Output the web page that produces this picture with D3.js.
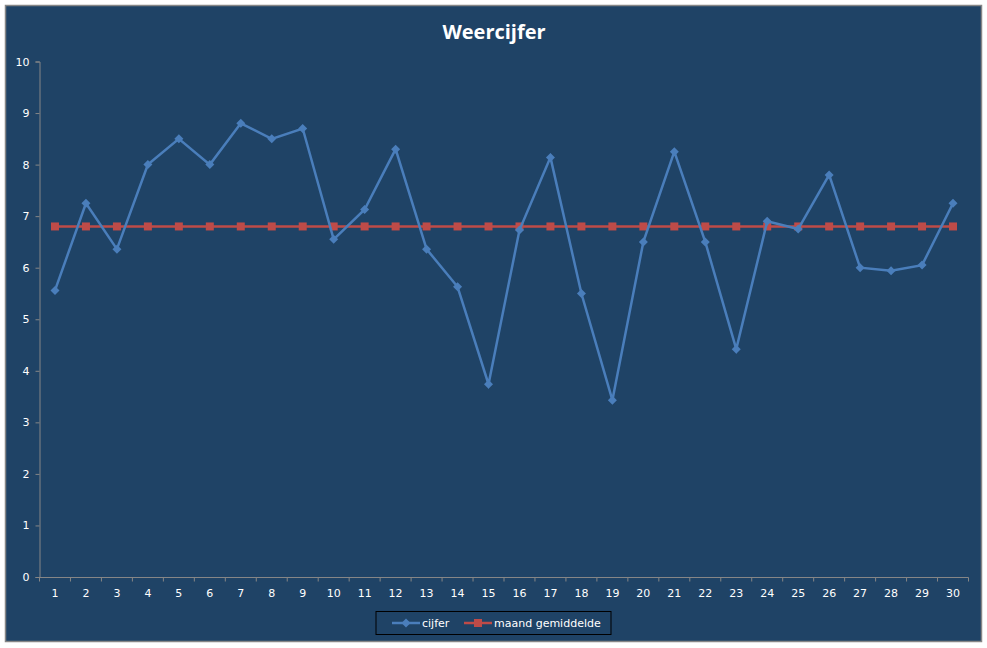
<!DOCTYPE html>
<html>
<head>
<meta charset="utf-8">
<script src="https://cdn.jsdelivr.net/npm/d3@7"></script>
<style>
    body { margin: 0; background: #ffffff; }
    text { font-family: Verdana, "DejaVu Sans", sans-serif; }
</style>
</head>
<body>
<div id="chart"></div>
<script>
// days of the month
const days = d3.range(1, 31).map(String);

// daily weather grade
const cijfer = [5.56, 7.25, 6.36, 8.0, 8.5, 8.0, 8.8, 8.5, 8.7, 6.55,
                7.13, 8.3, 6.36, 5.63, 3.74, 6.73, 8.14, 5.5, 3.43, 6.5,
                8.25, 6.5, 4.42, 6.9, 6.75, 7.8, 6.0, 5.94, 6.05, 7.25];

// monthly average (same every day)
const maandGemiddelde = days.map(() => 6.8);

const yTicks = [0, 1, 2, 3, 4, 5, 6, 7, 8, 9, 10];

const seriesNames = ["cijfer", "maand gemiddelde"];

const width = 987, height = 648;
const bg = "#1f4366", axisColor = "#868686", textColor = "#ffffff";
const blue = "#4a7ebb", red = "#be4b48";

const svg = d3.select("#chart").append("svg")
    .attr("width", width)
    .attr("height", height);

// chart area with grey border
svg.append("rect")
    .attr("x", 5.5).attr("y", 5.5)
    .attr("width", 976).attr("height", 636)
    .attr("fill", bg)
    .attr("stroke", axisColor)
    .attr("stroke-width", 1.5);

// title
svg.append("text")
    .attr("x", 494).attr("y", 39)
    .attr("text-anchor", "middle")
    .attr("fill", textColor)
    .attr("font-size", "20px")
    .attr("font-weight", "bold")
    .style("font-family", "'Open Sans', 'DejaVu Sans', sans-serif")
    .text("Weercijfer");

// scales
const x = d3.scaleBand().domain(days).range([39.5, 968.5]);
const y = d3.scaleLinear().domain([0, 10]).range([577, 61.5]);

// y axis
const yAxis = svg.append("g")
    .attr("transform", "translate(39.5,0)")
    .call(d3.axisLeft(y).tickValues(yTicks).tickSize(4).tickPadding(6));
yAxis.select(".domain").attr("stroke", axisColor);
yAxis.selectAll(".tick line").attr("stroke", axisColor);
yAxis.selectAll(".tick text")
    .attr("fill", textColor)
    .attr("font-size", "11px")
    .style("font-family", "Verdana, 'DejaVu Sans', sans-serif");

// x axis: ticks sit between the categories
const xAxis = svg.append("g")
    .attr("transform", "translate(0,577.5)")
    .call(d3.axisBottom(x).tickSize(0).tickPadding(12));
xAxis.select(".domain").attr("stroke", axisColor).attr("d", `M39.5,0H968.5`);
xAxis.selectAll(".tick text")
    .attr("fill", textColor)
    .attr("font-size", "11px")
    .style("font-family", "Verdana, 'DejaVu Sans', sans-serif");

xAxis.selectAll(".sep")
    .data(days)
    .enter()
    .append("line")
    .attr("class", "sep")
    .attr("x1", d => x(d) + x.bandwidth())
    .attr("x2", d => x(d) + x.bandwidth())
    .attr("y1", 0).attr("y2", 4)
    .attr("stroke", axisColor);
xAxis.append("line")
    .attr("x1", 39.5).attr("x2", 39.5)
    .attr("y1", 0).attr("y2", 4)
    .attr("stroke", axisColor);

const cx = d => x(d) + x.bandwidth() / 2;

const line = d3.line()
    .x((d, i) => cx(days[i]))
    .y(d => y(d));

// average line with square markers
svg.append("path")
    .datum(maandGemiddelde)
    .attr("d", line)
    .attr("fill", "none")
    .attr("stroke", red)
    .attr("stroke-width", 2.5);

svg.selectAll(".sq")
    .data(maandGemiddelde)
    .enter()
    .append("rect")
    .attr("class", "sq")
    .attr("x", (d, i) => cx(days[i]) - 4)
    .attr("y", d => y(d) - 4)
    .attr("width", 8).attr("height", 8)
    .attr("fill", red);

// daily line with diamond markers
svg.append("path")
    .datum(cijfer)
    .attr("d", line)
    .attr("fill", "none")
    .attr("stroke", blue)
    .attr("stroke-width", 2.5);

// square diamond (rotated square), like excel markers
const diamond = "M0,-4.5L4.5,0L0,4.5L-4.5,0Z";
svg.selectAll(".dm")
    .data(cijfer)
    .enter()
    .append("path")
    .attr("class", "dm")
    .attr("d", diamond)
    .attr("transform", (d, i) => `translate(${cx(days[i])},${y(d)})`)
    .attr("fill", blue);

// legend
const legend = svg.append("g");
legend.append("rect")
    .attr("x", 376).attr("y", 611.5)
    .attr("width", 235).attr("height", 23)
    .attr("fill", bg)
    .attr("stroke", "#000000")
    .attr("stroke-width", 1);

const legendItems = [
    {name: seriesNames[0], color: blue, x: 392, shape: "diamond"},
    {name: seriesNames[1], color: red, x: 464, shape: "square"}
];

legendItems.forEach(item => {
    legend.append("line")
        .attr("x1", item.x).attr("x2", item.x + 28)
        .attr("y1", 623).attr("y2", 623)
        .attr("stroke", item.color)
        .attr("stroke-width", 2.5);
    if (item.shape === "diamond") {
        legend.append("path")
            .attr("d", diamond)
            .attr("transform", `translate(${item.x + 14},623)`)
            .attr("fill", item.color);
    } else {
        legend.append("rect")
            .attr("x", item.x + 10).attr("y", 619)
            .attr("width", 8).attr("height", 8)
            .attr("fill", item.color);
    }
    legend.append("text")
        .attr("x", item.x + 30).attr("y", 627)
        .attr("fill", textColor)
        .attr("font-size", "11px")
        .style("font-family", "Verdana, 'DejaVu Sans', sans-serif")
        .text(item.name);
});
</script>
</body>
</html>
